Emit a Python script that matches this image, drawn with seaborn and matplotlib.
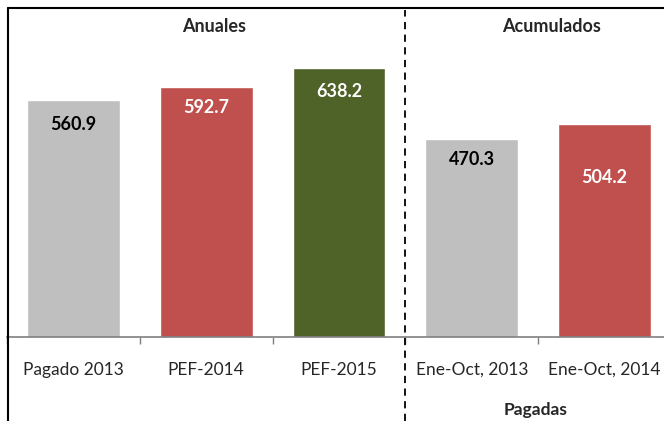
import matplotlib
matplotlib.use("Agg")
import matplotlib.pyplot as plt
import seaborn as sns
from matplotlib.lines import Line2D

categorias = ["Pagado 2013", "PEF-2014", "PEF-2015", "Ene-Oct, 2013", "Ene-Oct, 2014"]
valores = [560.9, 592.7, 638.2, 470.3, 504.2]
colores = ["#BFBFBF", "#C0504D", "#4F6228", "#BFBFBF", "#C0504D"]
color_texto = ["black", "white", "white", "black", "white"]

sns.set_style("white")
plt.rcParams["font.family"] = ["Lato", "DejaVu Sans"]

fig = plt.figure(figsize=(6.64, 4.21), dpi=100)
ax = fig.add_axes([7 / 664, 84 / 421, 664 / 664, 329 / 421])

sns.barplot(x=categorias, y=valores, hue=categorias, palette=colores,
            width=0.7, saturation=1, legend=False, ax=ax)

ax.set_ylim(0, 780)
ax.set_xlim(-0.5, 4.5)
ax.set_xlabel("")
ax.set_ylabel("")
ax.set_yticks([])
for s in ["top", "right", "left"]:
    ax.spines[s].set_visible(False)
ax.spines["bottom"].set_color("#7f7f7f")
ax.spines["bottom"].set_linewidth(1.2)

ax.set_xticks(range(len(categorias)))
ax.set_xticklabels(categorias, fontsize=12.5)
ax.tick_params(axis="x", which="major", length=0, pad=18)
ax.set_xticks([i - 0.5 for i in range(len(categorias) + 1)], minor=True)
ax.tick_params(axis="x", which="minor", length=5, width=1, color="#7f7f7f", bottom=True)

# etiquetas de valor dentro de las barras
desplaz = [17, 15, 17, 15, 38]
for i, v in enumerate(valores):
    ax.annotate(f"{v:.1f}", (i, v), xytext=(0, -desplaz[i]), textcoords="offset points",
                ha="center", va="center", fontsize=13, fontweight="bold",
                color=color_texto[i])

# separador punteado
ax.axvline(2.5, ymin=-84 / 329, ymax=0.995, color="black", linestyle=(0, (4, 3)),
           linewidth=1.3, clip_on=False)

fig.text(214 / 664, 1 - 26 / 421, "Anuales", ha="center", va="center",
         fontsize=13, fontweight="bold")
fig.text(552 / 664, 1 - 26 / 421, "Acumulados", ha="center", va="center",
         fontsize=13, fontweight="bold")
fig.text(536 / 664, 1 - 410 / 421, "Pagadas", ha="center", va="center",
         fontsize=12.5, fontweight="bold")

# marco del área del gráfico
fig.add_artist(Line2D([8 / 664, 8 / 664], [0, 1 - 8 / 421], color="black", linewidth=1.5))
fig.add_artist(Line2D([8 / 664, 1], [1 - 8 / 421, 1 - 8 / 421], color="black", linewidth=1.5))

fig.savefig("out.png", dpi=100)
